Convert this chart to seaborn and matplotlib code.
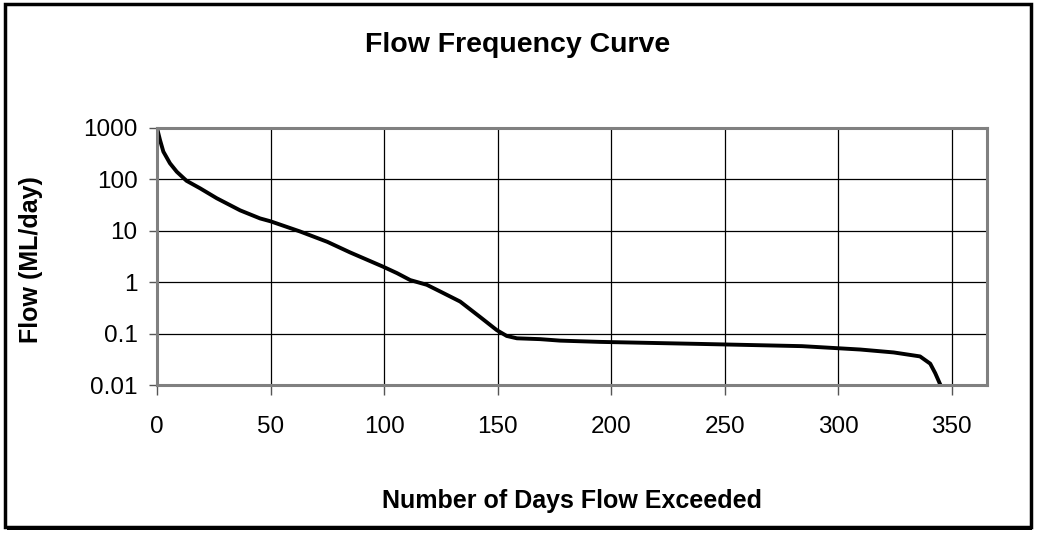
import numpy as np
import pandas as pd
import matplotlib
matplotlib.use("Agg")
import matplotlib.pyplot as plt
import seaborn as sns
from matplotlib.patches import Rectangle
from matplotlib.ticker import FixedLocator, FixedFormatter, NullLocator

# values
days = [0, 1.3, 2.8, 5.7, 8.7, 13, 19, 26.3, 36.6, 45.4, 50, 63, 75, 85,
        99.6, 105.7, 111.5, 118.8, 124.7, 133.5, 142.3, 149.6, 154, 158.5,
        168.7, 177.5, 195, 239, 284, 309.7, 324.4, 336, 340.5, 342.7, 345]
flow = [1000, 588, 347, 206, 141, 94, 67, 43, 25, 17.4, 15.3, 9.7, 6.1, 3.8,
        2.0, 1.5, 1.1, 0.89, 0.66, 0.42, 0.21, 0.117, 0.09, 0.081,
        0.078, 0.073, 0.069, 0.063, 0.057, 0.049, 0.043, 0.036, 0.026, 0.017, 0.01]
x_ticks = [0, 50, 100, 150, 200, 250, 300, 350]
y_ticks = [0.01, 0.1, 1, 10, 100, 1000]
y_labels = ["0.01", "0.1", "1", "10", "100", "1000"]

df = pd.DataFrame({"days": days, "flow": flow})

sns.set_style("white")
plt.rcParams["font.family"] = ["Liberation Sans", "DejaVu Sans"]
for k in ["text.color", "axes.labelcolor", "xtick.color", "ytick.color"]:
    plt.rcParams[k] = "black"

W, H = 1037, 533
fig = plt.figure(figsize=(W / 100, H / 100), dpi=100)

# outer chart frame with drop shadow
fig.add_artist(Rectangle((7 / W, 1 - 530 / H), 1025 / W, 524 / H,
                         transform=fig.transFigure, facecolor="black",
                         edgecolor="black", lw=0, zorder=-10))
fig.add_artist(Rectangle((5 / W, 1 - 527 / H), 1026 / W, 523 / H,
                         transform=fig.transFigure, facecolor="white",
                         edgecolor="black", lw=2.5, zorder=-9))

ax = fig.add_axes([157 / W, 1 - 385 / H, 830 / W, 257 / H])
ax.set_facecolor("white")
sns.lineplot(data=df, x="days", y="flow", ax=ax, color="black", lw=2.8)

ax.set_yscale("log")
ax.set_xlim(0, 365.5)
ax.set_ylim(0.01, 1000)
ax.xaxis.set_major_locator(FixedLocator(x_ticks))
ax.yaxis.set_major_locator(FixedLocator(y_ticks))
ax.yaxis.set_major_formatter(FixedFormatter(y_labels))
ax.yaxis.set_minor_locator(NullLocator())
ax.grid(True, color="black", lw=0.9)
ax.set_axisbelow(True)

for s in ax.spines.values():
    s.set_color("#808080")
    s.set_linewidth(2.2)

ax.tick_params(axis="x", direction="out", length=7, width=1, color="#555555",
               labelcolor="black", labelsize=17.5, pad=15, bottom=True)
ax.tick_params(axis="y", direction="out", length=6, width=1, color="#555555",
               labelcolor="black", labelsize=17.5, pad=8, left=True)
ax.set_xlabel("")
ax.set_ylabel("")

fig.text(518 / W, 1 - 52 / H, "Flow Frequency Curve", ha="center", va="baseline",
         fontsize=20.5, fontweight="bold")
fig.text(572 / W, 1 - 508 / H, "Number of Days Flow Exceeded", ha="center",
         va="baseline", fontsize=18, fontweight="bold")
fig.text(31 / W, 1 - 260 / H, "Flow (ML/day)", ha="center", va="center",
         rotation=90, fontsize=18, fontweight="bold")

fig.savefig("out.png", dpi=100)
